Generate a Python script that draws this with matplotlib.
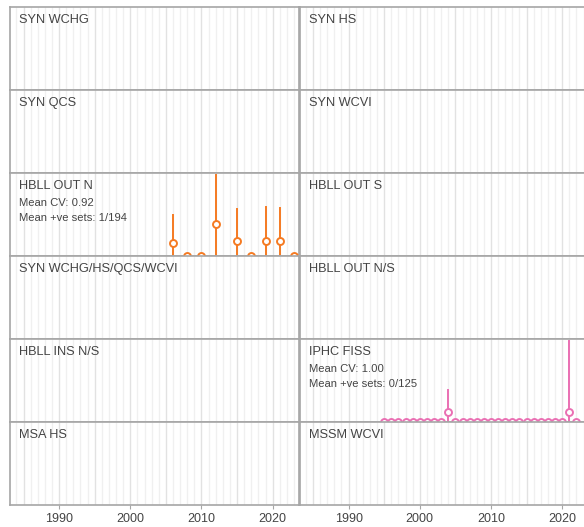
import numpy as np
import matplotlib
matplotlib.use("Agg")
import matplotlib.pyplot as plt

plt.rcParams['font.family'] = ['Liberation Sans', 'DejaVu Sans']

# survey panels, laid out left-to-right, top-to-bottom
surveys = ["SYN WCHG", "SYN HS",
           "SYN QCS", "SYN WCVI",
           "HBLL OUT N", "HBLL OUT S",
           "SYN WCHG/HS/QCS/WCVI", "HBLL OUT N/S",
           "HBLL INS N/S", "IPHC FISS",
           "MSA HS", "MSSM WCVI"]

# HBLL OUT N index (scaled so panel max ~ 1)
hbll_years = [2006, 2008, 2010, 2012, 2015, 2017, 2019, 2021, 2023]
hbll_est = [0.155, 0.0, 0.0, 0.38, 0.18, 0.0, 0.18, 0.18, 0.0]
hbll_upr = [0.50, 0.0, 0.0, 0.976, 0.566, 0.0, 0.585, 0.575, 0.0]
hbll_text = ["Mean CV: 0.92", "Mean +ve sets: 1/194"]

# IPHC FISS index
iphc_years = list(range(1995, 2023))
iphc_est = [0.12 if y in (2004, 2021) else 0.0 for y in iphc_years]
iphc_upr = [0.385 if y == 2004 else 0.97 if y == 2021 else 0.0 for y in iphc_years]
iphc_text = ["Mean CV: 1.00", "Mean +ve sets: 0/125"]

series = {
    "HBLL OUT N": (hbll_years, hbll_est, hbll_upr, hbll_text, '#f57a22'),
    "IPHC FISS": (iphc_years, iphc_est, iphc_upr, iphc_text, '#ea6fb3'),
}

W, H = 584, 527
fig = plt.figure(figsize=(W / 100, H / 100), dpi=100)

col_x = [10, 299.5]
col_w = 289
top = 7
row_h = 83
xlim = (1983.1, 2023.7)
txt = '#444444'

for i, name in enumerate(surveys):
    r, c = divmod(i, 2)
    x0 = col_x[c]
    y0 = top + (r + 1) * row_h
    ax = fig.add_axes([x0 / W, 1 - y0 / H, col_w / W, row_h / H])
    ax.set_xlim(*xlim)
    ax.set_ylim(0, 1)

    for yr in range(1983, 2025):
        col = '#e2e2e2' if yr % 5 == 0 else '#f0f0f0'
        ax.axvline(yr, color=col, lw=1.0, zorder=0)

    for s in ax.spines.values():
        s.set_color('#a6a6a6')
        s.set_linewidth(1.2)

    ax.set_yticks([])
    ax.set_xticks([1990, 2000, 2010, 2020])
    if r == 5:
        ax.tick_params(axis='x', length=3, color='#a6a6a6', labelsize=9,
                       labelcolor=txt, pad=3)
    else:
        ax.tick_params(axis='x', length=0, labelbottom=False)

    ax.annotate(name, xy=(0, 1), xycoords='axes fraction', xytext=(6.5, -11.3),
                textcoords='offset points', fontsize=9.2, color=txt, va='baseline')

    if name in series:
        yrs, est, upr, lines, color = series[name]
        for yr, e, u in zip(yrs, est, upr):
            if u > 0:
                ax.plot([yr, yr], [0, u], color=color, lw=1.4, zorder=2)
        ax.plot(yrs, est, 'o', ms=5, mfc='white', mec=color, mew=1.4, zorder=3)
        ax.annotate(lines[0], xy=(0, 1), xycoords='axes fraction', xytext=(6.5, -23.8),
                    textcoords='offset points', fontsize=8.1, color=txt, va='baseline')
        ax.annotate(lines[1], xy=(0, 1), xycoords='axes fraction', xytext=(6.5, -34.4),
                    textcoords='offset points', fontsize=8.1, color=txt, va='baseline')

fig.savefig("out.png", dpi=100)
